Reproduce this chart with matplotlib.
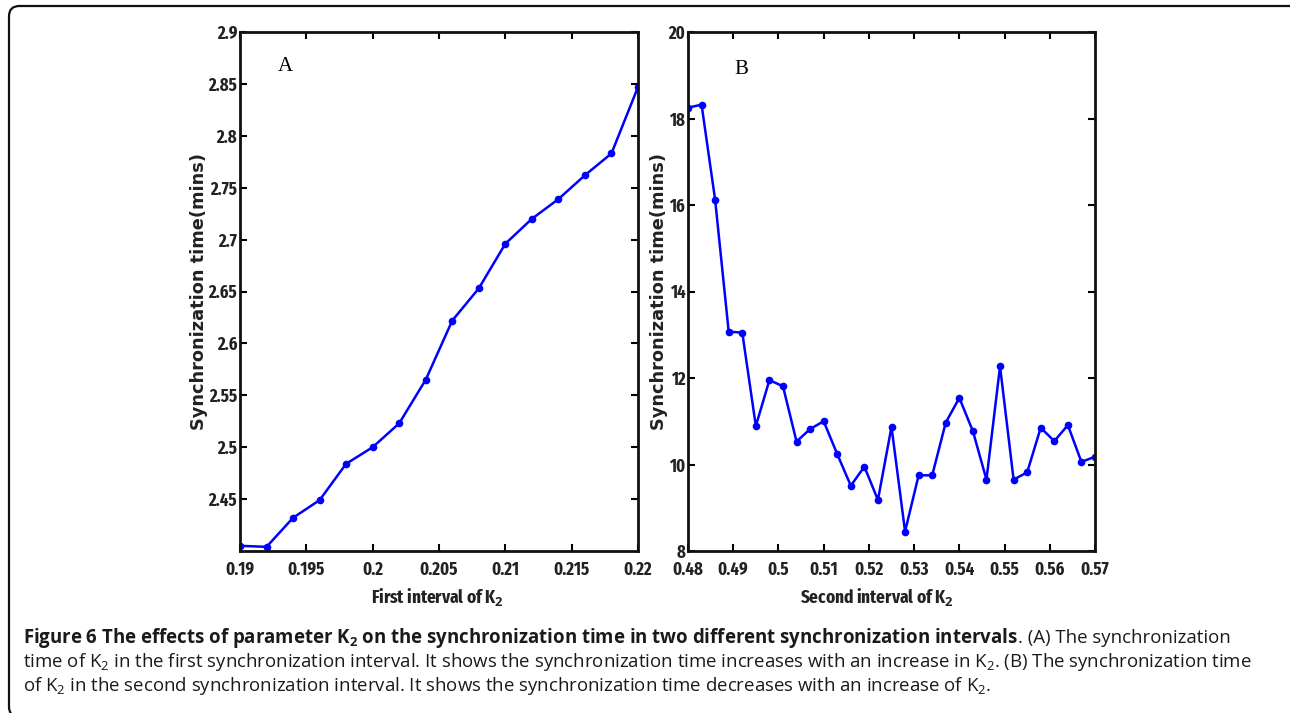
import numpy as np
import matplotlib
matplotlib.use("Agg")
import matplotlib.pyplot as plt
from matplotlib.patches import FancyBboxPatch

plt.rcParams['mathtext.fontset'] = 'custom'
plt.rcParams['mathtext.rm'] = 'Open Sans'
plt.rcParams['mathtext.it'] = 'Open Sans'
plt.rcParams['mathtext.bf'] = 'Open Sans:bold'

TICKFONT = ['Fira Sans Extra Condensed', 'DejaVu Sans']
CAPFONT = ['Open Sans', 'DejaVu Sans']

# panel A: first interval of K2
k2_first = [0.190, 0.192, 0.194, 0.196, 0.198, 0.200, 0.202, 0.204,
            0.206, 0.208, 0.210, 0.212, 0.214, 0.216, 0.218, 0.220]
sync_first = [2.405, 2.404, 2.432, 2.449, 2.484, 2.500, 2.523, 2.565,
              2.622, 2.653, 2.696, 2.720, 2.739, 2.762, 2.783, 2.847]

# panel B: second interval of K2
k2_second = [0.480, 0.483, 0.486, 0.489, 0.492, 0.495, 0.498, 0.501,
             0.504, 0.507, 0.510, 0.513, 0.516, 0.519, 0.522, 0.525,
             0.528, 0.531, 0.534, 0.537, 0.540, 0.543, 0.546, 0.549,
             0.552, 0.555, 0.558, 0.561, 0.564, 0.567, 0.570]
sync_second = [18.25, 18.32, 16.12, 13.07, 13.05, 10.89, 11.95, 11.81,
               10.53, 10.82, 11.00, 10.24, 9.51, 9.95, 9.18, 10.87,
               8.45, 9.75, 9.75, 10.97, 11.54, 10.77, 9.65, 12.27,
               9.65, 9.82, 10.85, 10.54, 10.91, 10.06, 10.18]

xticks_a = [0.19, 0.195, 0.2, 0.205, 0.21, 0.215, 0.22]
xticklabels_a = ['0.19', '0.195', '0.2', '0.205', '0.21', '0.215', '0.22']
yticks_a = [2.45, 2.5, 2.55, 2.6, 2.65, 2.7, 2.75, 2.8, 2.85, 2.9]
yticklabels_a = ['2.45', '2.5', '2.55', '2.6', '2.65', '2.7', '2.75', '2.8', '2.85', '2.9']

xticks_b = [0.48, 0.49, 0.5, 0.51, 0.52, 0.53, 0.54, 0.55, 0.56, 0.57]
xticklabels_b = ['0.48', '0.49', '0.5', '0.51', '0.52', '0.53', '0.54', '0.55', '0.56', '0.57']
yticks_b = [8, 10, 12, 14, 16, 18, 20]
yticklabels_b = ['8', '10', '12', '14', '16', '18', '20']

W, H = 1290, 713
fig = plt.figure(figsize=(W / 100, H / 100), dpi=100)


def px_axes(x0, y0, x1, y1):
    return fig.add_axes([x0 / W, 1 - y1 / H, (x1 - x0) / W, (y1 - y0) / H])


def style_axis(ax, xt, xtl, yt, ytl):
    ax.set_xticks(xt)
    ax.set_xticklabels(xtl)
    ax.set_yticks(yt)
    ax.set_yticklabels(ytl)
    ax.tick_params(direction='in', length=5, width=1.5, top=True, right=True,
                   labelsize=13, pad=2, colors='black')
    ax.tick_params(axis='x', pad=7)
    for lab in ax.get_xticklabels() + ax.get_yticklabels():
        lab.set_family(TICKFONT)
        lab.set_fontweight('bold')
        lab.set_color('#222222')
    for sp in ax.spines.values():
        sp.set_linewidth(2)
        sp.set_color('#111111')


axA = px_axes(240, 32, 638, 551)
axA.plot(k2_first, sync_first, '-o', color='#0000ff', lw=1.8, ms=4.5)
axA.set_xlim(0.19, 0.22)
axA.set_ylim(2.4, 2.9)
style_axis(axA, xticks_a, xticklabels_a, yticks_a, yticklabels_a)
axA.text(0.113, 0.933, 'A', transform=axA.transAxes, family='Liberation Serif',
         fontsize=15, va='center', ha='center')

axB = px_axes(688, 32, 1095, 551)
axB.plot(k2_second, sync_second, '-o', color='#0000ff', lw=1.8, ms=4.5)
axB.set_xlim(0.48, 0.57)
axB.set_ylim(8, 20)
style_axis(axB, xticks_b, xticklabels_b, yticks_b, yticklabels_b)
axB.text(0.130, 0.927, 'B', transform=axB.transAxes, family='Liberation Serif',
         fontsize=15, va='center', ha='center')

# axis labels placed in pixel positions
for xc in (199, 659):
    fig.text(xc / W, 1 - 291 / H, 'Synchronization time(mins)', rotation=90,
             fontsize=12.8, fontweight='bold', family='DejaVu Sans',
             ha='center', va='center', color='#222222')
fig.text(437 / W, 1 - 597 / H, 'First interval of K$_\\mathbf{2}$', family=TICKFONT,
         fontweight='bold', fontsize=13.5, ha='center', va='center', color='#222222')
fig.text(877 / W, 1 - 597 / H, 'Second interval of K$_\\mathbf{2}$', family=TICKFONT,
         fontweight='bold', fontsize=13.5, ha='center', va='center', color='#222222')

# rounded frame, partly running off the right/bottom edges like the source
fig.patches.append(FancyBboxPatch((9 / W, -4 / H), 1292 / W, 711 / H,
                                  boxstyle='round,pad=0,rounding_size=0.008',
                                  transform=fig.transFigure, fill=False,
                                  ec='#111111', lw=1.6, mutation_aspect=W / H))

# caption with mixed bold / regular runs
cap_lines = [
    [('Figure 6 The effects of parameter K$_\\mathbf{2}$ on the synchronization time in two different synchronization intervals', 'bold'),
     ('. (A) The synchronization', 'normal')],
    [('time of K$_2$ in the first synchronization interval. It shows the synchronization time increases with an increase in K$_2$. (B) The synchronization time', 'normal')],
    [('of K$_2$ in the second synchronization interval. It shows the synchronization time decreases with an increase of K$_2$.', 'normal')],
]
cap_y = [643, 667, 691]
cap_x0 = 23
renderer = fig.canvas.get_renderer()


def place_line(runs, y, size):
    x = cap_x0
    made = []
    for s, w in runs:
        t = fig.text(x / W, 1 - y / H, s, family=CAPFONT, fontsize=size,
                     fontweight=w, va='baseline', ha='left', color='#1a1a1a')
        x += t.get_window_extent(renderer).width
        made.append(t)
    return x, made


# fit the second (all regular) line to its width in the source, ends near x=1250
end, tmp = place_line(cap_lines[1], cap_y[1], 12)
for t in tmp:
    t.remove()
cap_size = 12 * (1250 - cap_x0) / (end - cap_x0)
for runs, y in zip(cap_lines, cap_y):
    place_line(runs, y, cap_size)

fig.savefig('out.png', dpi=100)
